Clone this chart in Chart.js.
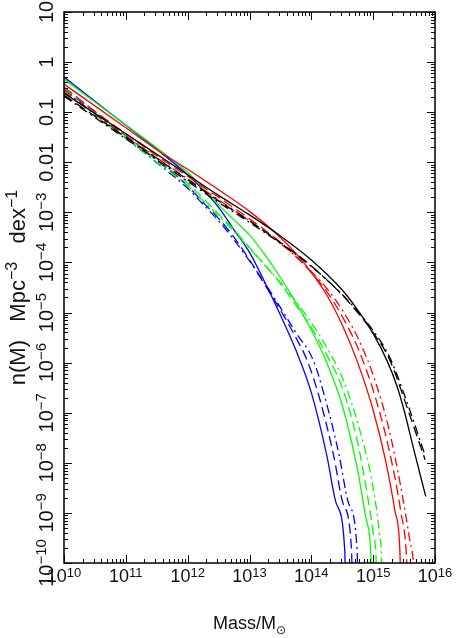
<!DOCTYPE html>
<html>
<head>
<meta charset="utf-8">
<script src="https://cdn.jsdelivr.net/npm/chart.js@4.4.0/dist/chart.umd.min.js"></script>
<style>
  body { margin: 0; background: #fff; }
  #wrap { width: 458px; height: 638px; }
</style>
</head>
<body>
<div id="wrap"><canvas id="massChart" width="458" height="638"></canvas></div>
<script>
// log10(M / Msun) and log10(n / Mpc^-3 dex^-1)
const blueSolidLogM = [10, 11, 11.5, 12, 12.25, 12.5, 12.75, 13, 13.25, 13.5, 13.75, 14, 14.25, 14.4, 14.54, 14.555];
const blueSolidLogN = [-0.30, -1.26, -1.74, -2.25, -2.55, -2.9, -3.35, -3.8, -4.4, -5.05, -5.75, -6.6, -7.85, -8.8, -9.74, -10.6];
const blueDashLogM = [10, 11, 11.5, 12, 12.25, 12.5, 12.75, 13, 13.25, 13.5, 13.75, 13.93, 14.14, 14.36, 14.51, 14.65, 14.665];
const blueDashLogN = [-0.50, -1.47, -1.96, -2.47, -2.8, -3.12, -3.5, -3.95, -4.45, -4.95, -5.5, -5.95, -6.74, -7.85, -8.8, -9.74, -10.6];
const blueDotDashLogM = [10, 11, 11.5, 12, 12.25, 12.5, 12.75, 13, 13.25, 13.5, 13.75, 14.03, 14.23, 14.45, 14.6, 14.74, 14.755];
const blueDotDashLogN = [-0.56, -1.52, -2.01, -2.52, -2.84, -3.17, -3.55, -3.97, -4.42, -4.9, -5.4, -5.95, -6.74, -7.85, -8.8, -9.74, -10.6];

const greenSolidLogM = [10, 11, 11.5, 12, 12.25, 12.5, 12.75, 13, 13.25, 13.5, 13.75, 14, 14.25, 14.5, 14.75, 14.9, 14.96, 14.97];
const greenSolidLogN = [-0.34, -1.255, -1.71, -2.2, -2.52, -2.85, -3.15, -3.45, -3.85, -4.3, -4.8, -5.35, -6.0, -6.85, -8.15, -9.2, -9.8, -10.6];
const greenDashLogM = [10, 11, 11.5, 12, 12.25, 12.5, 12.75, 13, 13.25, 13.5, 13.75, 14, 14.25, 14.5, 14.75, 14.9, 15.0, 15.05, 15.06];
const greenDashLogN = [-0.52, -1.48, -1.95, -2.42, -2.72, -3.03, -3.35, -3.7, -4.05, -4.42, -4.85, -5.3, -5.85, -6.5, -7.6, -8.6, -9.4, -10.0, -10.6];
const greenDotDashLogM = [10, 11, 11.5, 12, 12.25, 12.5, 12.75, 13, 13.25, 13.5, 13.75, 14, 14.25, 14.5, 14.75, 15.0, 15.1, 15.14, 15.15];
const greenDotDashLogN = [-0.57, -1.53, -2.0, -2.47, -2.77, -3.07, -3.38, -3.72, -4.06, -4.4, -4.78, -5.2, -5.7, -6.3, -7.2, -8.5, -9.4, -10.0, -10.6];

const redSolidLogM = [10, 11, 11.5, 12, 12.5, 13, 13.5, 13.75, 14, 14.25, 14.5, 14.75, 15, 15.2, 15.35, 15.43, 15.45];
const redSolidLogN = [-0.44, -1.31, -1.75, -2.14, -2.55, -2.98, -3.5, -3.82, -4.2, -4.65, -5.25, -6.0, -6.95, -7.95, -8.95, -9.7, -10.6];
const redDashLogM = [10, 11, 11.5, 12, 12.5, 13, 13.5, 13.75, 14, 14.25, 14.5, 14.75, 15, 15.25, 15.45, 15.54, 15.56];
const redDashLogN = [-0.55, -1.43, -1.87, -2.28, -2.7, -3.13, -3.6, -3.88, -4.2, -4.58, -5.08, -5.7, -6.55, -7.7, -9.0, -9.9, -10.6];
const redDotDashLogM = [10, 11, 11.5, 12, 12.5, 13, 13.5, 13.75, 14, 14.25, 14.5, 14.75, 15, 15.25, 15.45, 15.6, 15.65, 15.67];
const redDotDashLogN = [-0.60, -1.47, -1.91, -2.33, -2.75, -3.17, -3.62, -3.88, -4.18, -4.52, -4.95, -5.5, -6.25, -7.3, -8.5, -9.6, -10.0, -10.6];

const blackSolidLogM = [10, 11, 11.5, 12, 12.5, 13, 13.5, 14, 14.5, 14.75, 15, 15.22, 15.38, 15.5, 15.65, 15.85];
const blackSolidLogN = [-0.62, -1.43, -1.84, -2.25, -2.66, -3.05, -3.47, -3.95, -4.55, -4.95, -5.42, -5.95, -6.45, -6.95, -7.7, -8.67];
const blackDashLogM = [10, 11, 11.5, 12, 12.5, 13, 13.5, 14, 14.5, 14.75, 15, 15.27, 15.55, 15.84];
const blackDashLogN = [-0.66, -1.5, -1.92, -2.35, -2.77, -3.17, -3.6, -4.07, -4.65, -5.0, -5.4, -5.95, -6.9, -7.94];
const blackDotDashLogM = [10, 11, 11.5, 12, 12.5, 13, 13.5, 14, 14.5, 14.75, 15, 15.27, 15.55, 15.84];
const blackDotDashLogN = [-0.68, -1.53, -1.95, -2.38, -2.8, -3.2, -3.62, -4.08, -4.64, -4.98, -5.36, -5.9, -6.8, -7.85];

// axis ticks (decades)
const xTickExps = [10, 11, 12, 13, 14, 15, 16];
const yTickExps = [1, 0, -1, -2, -3, -4, -5, -6, -7, -8, -9, -10];
const yTickPlain = { '1': '10', '0': '1', '-1': '0.1', '-2': '0.01' };

const DASHED = [10, 5];
const DOTDASH = [9, 4, 2, 4];

function toPoints(logM, logN) {
  return logM.map((m, i) => ({ x: Math.pow(10, m), y: Math.pow(10, logN[i]) }));
}

function line(logM, logN, color, dash) {
  return {
    data: toPoints(logM, logN),
    borderColor: color,
    borderWidth: 1.3,
    borderDash: dash,
    pointRadius: 0,
    fill: false,
    cubicInterpolationMode: 'monotone'
  };
}

const datasets = [
  line(blackSolidLogM, blackSolidLogN, '#000000', []),
  line(blackDashLogM, blackDashLogN, '#000000', DASHED),
  line(blackDotDashLogM, blackDotDashLogN, '#000000', DOTDASH),
  line(redSolidLogM, redSolidLogN, '#ff0000', []),
  line(redDashLogM, redDashLogN, '#ff0000', DASHED),
  line(redDotDashLogM, redDotDashLogN, '#ff0000', DOTDASH),
  line(greenSolidLogM, greenSolidLogN, '#00ff00', []),
  line(greenDashLogM, greenDashLogN, '#00ff00', DASHED),
  line(greenDotDashLogM, greenDotDashLogN, '#00ff00', DOTDASH),
  line(blueSolidLogM, blueSolidLogN, '#0000ff', []),
  line(blueDashLogM, blueDashLogN, '#0000ff', DASHED),
  line(blueDotDashLogM, blueDotDashLogN, '#0000ff', DOTDASH)
];

const FONT = '"Liberation Sans", Arial, sans-serif';

// draws a run of [text, isSup] pieces centred on x=0 in the current transform
function runText(ctx, pieces, y, size, supSize, rise) {
  let total = 0;
  pieces.forEach(p => {
    ctx.font = (p[1] ? supSize : size) + 'px ' + FONT;
    total += ctx.measureText(p[0]).width;
  });
  let x = -total / 2;
  pieces.forEach(p => {
    ctx.font = (p[1] ? supSize : size) + 'px ' + FONT;
    ctx.fillText(p[0], x, p[1] ? y - rise : y);
    x += ctx.measureText(p[0]).width;
  });
}

const framePlugin = {
  id: 'pgframe',
  afterDraw(chart) {
    const ctx = chart.ctx;
    const a = chart.chartArea;
    const xs = chart.scales.x, ys = chart.scales.y;
    ctx.save();
    ctx.strokeStyle = '#000';
    ctx.fillStyle = '#111';
    ctx.lineWidth = 1.5;
    ctx.strokeRect(a.left, a.top, a.right - a.left, a.bottom - a.top);

    ctx.lineWidth = 1;
    ctx.beginPath();
    // x ticks, bottom and top, pointing inward
    for (let e = 10; e <= 16; e++) {
      for (let k = 1; k <= 9; k++) {
        if (e === 16 && k > 1) break;
        const px = Math.round(xs.getPixelForValue(k * Math.pow(10, e))) + 0.5;
        const len = k === 1 ? 8 : 4;
        ctx.moveTo(px, a.bottom); ctx.lineTo(px, a.bottom - len);
        ctx.moveTo(px, a.top); ctx.lineTo(px, a.top + len);
      }
    }
    // y ticks, left and right
    for (let e = -10; e <= 1; e++) {
      for (let k = 1; k <= 9; k++) {
        if (e === 1 && k > 1) break;
        const py = Math.round(ys.getPixelForValue(k * Math.pow(10, e))) + 0.5;
        const len = k === 1 ? 8 : 4;
        ctx.moveTo(a.left, py); ctx.lineTo(a.left + len, py);
        ctx.moveTo(a.right, py); ctx.lineTo(a.right - len, py);
      }
    }
    ctx.stroke();

    ctx.textBaseline = 'alphabetic';
    // x tick labels
    xTickExps.forEach(e => {
      const px = xs.getPixelForValue(Math.pow(10, e));
      ctx.save();
      ctx.translate(px, 0);
      runText(ctx, [['10', 0], [String(e), 1]], 582, 18, 13, 5);
      ctx.restore();
    });
    // y tick labels, rotated to read upward
    yTickExps.forEach(e => {
      const py = ys.getPixelForValue(Math.pow(10, e));
      ctx.save();
      ctx.translate(53, py);
      ctx.rotate(-Math.PI / 2);
      const plain = yTickPlain[String(e)];
      if (plain) runText(ctx, [[plain, 0]], 0, 20, 14, 0);
      else runText(ctx, [['10', 0], ['\u2212' + (-e), 1]], 0, 20, 15, 7);
      ctx.restore();
    });

    // x axis title: Mass/M_sun
    ctx.font = '18px ' + FONT;
    const t1 = 'Mass/M';
    const w1 = ctx.measureText(t1).width;
    ctx.font = '12px "DejaVu Sans", sans-serif';
    const w2 = ctx.measureText('\u2299').width;
    let tx = (a.left + a.right) / 2 - (w1 + w2) / 2;
    ctx.font = '18px ' + FONT;
    ctx.fillText(t1, tx, 629);
    ctx.font = '12px "DejaVu Sans", sans-serif';
    ctx.fillText('\u2299', tx + w1, 634);

    // y axis title
    ctx.save();
    ctx.translate(25, (a.top + a.bottom) / 2);
    ctx.rotate(-Math.PI / 2);
    runText(ctx, [['n(M)   Mpc', 0], ['\u22123', 1], ['   dex', 0], ['\u22121', 1]], 0, 22, 16, 8);
    ctx.restore();
    ctx.restore();
  }
};

const ctx = document.getElementById('massChart').getContext('2d');
const massChart = new Chart(ctx, {
  type: 'line',
  data: { datasets: datasets },
  options: {
    responsive: false,
    animation: false,
    layout: { padding: { left: 64, top: 12, right: 23, bottom: 75 } },
    plugins: { legend: { display: false }, tooltip: { enabled: false } },
    scales: {
      x: { type: 'logarithmic', min: 1e10, max: 1e16, display: false },
      y: { type: 'logarithmic', min: 1e-10, max: 10, display: false }
    }
  },
  plugins: [framePlugin]
});
</script>
</body>
</html>
